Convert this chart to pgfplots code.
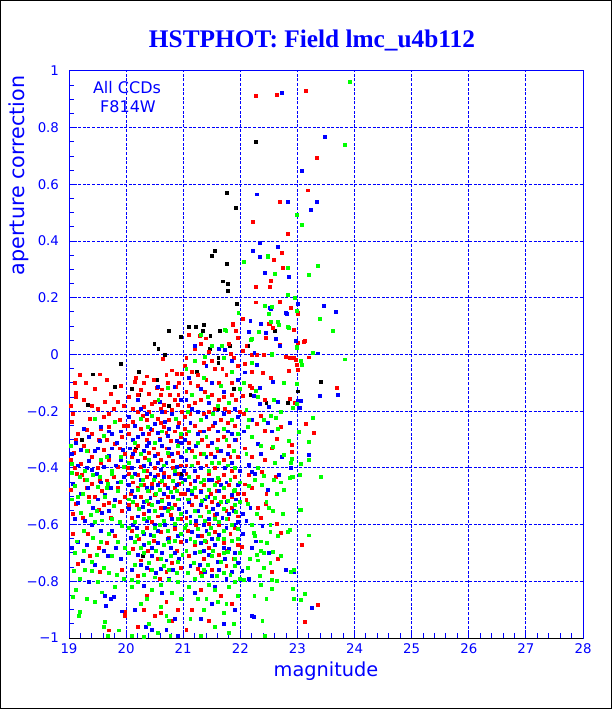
\documentclass[border=0pt]{standalone}
\usepackage{pgfplots}
\pgfplotsset{compat=1.18}
\usepackage{fontspec}
\newfontfamily\labfont{DejaVu Sans}
\newfontfamily\titlefont{Liberation Serif}
\definecolor{pblue}{RGB}{0,0,255}
\definecolor{pred}{RGB}{255,0,0}
\definecolor{pgreen}{RGB}{0,255,0}
\pgfplotsset{dot/.style={only marks, mark=square*, mark size=1.1pt, mark options={solid, fill=#1, draw=#1, line width=0.1pt}, color=#1}}
\tikzset{gridline/.style={draw=pblue, line width=0.75pt, dash pattern=on 2.25pt off 1.2pt}}
\begin{document}
\begin{tikzpicture}
\useasboundingbox (-51.75pt,-53.25pt) rectangle (407.25pt,478.5pt);
\draw[black,line width=0.75pt] (-51.375pt,-52.875pt) rectangle (406.875pt,478.125pt);
\begin{axis}[
  at={(0pt,0pt)}, anchor=south west, scale only axis,
  width=385.5pt, height=425.25pt,
  xmin=19, xmax=28, ymin=-1, ymax=1,
  xtick={19,20,21,22,23,24,25,26,27,28},
  xticklabels={19,20,21,22,23,24,25,26,27,28},
  ytick={-1,-0.8,-0.6,-0.4,-0.2,0,0.2,0.4,0.6,0.8,1},
  yticklabels={−1,−0.8,−0.6,−0.4,−0.2,0,0.2,0.4,0.6,0.8,1},
  minor x tick num=4, minor y tick num=3,
  tick align=inside, xtick pos=bottom, ytick pos=left,
  major tick length=6pt, minor tick length=3.5pt,
  every tick/.style={draw=pblue, line width=0.75pt},
  axis line style={draw=pblue, line width=0.75pt},
  tick label style={font=\labfont\fontsize{10}{11}\selectfont, text=pblue},
  xticklabel style={yshift=-1pt},
  yticklabel style={xshift=-4pt},
]
\pgfplotsinvokeforeach{20,21,22,23,24,25,26,27}{\draw[gridline] (axis cs:#1,-1) -- (axis cs:#1,1);}
\pgfplotsinvokeforeach{-0.8,-0.6,-0.4,-0.2,0,0.2,0.4,0.6,0.8}{\draw[gridline] (axis cs:19,#1) -- (axis cs:28,#1);}
% black
\addplot[dot=black] coordinates {
(22.27,0.75)(21.76,0.57)(21.92,0.518)(21.55,0.365)(21.5,0.35)(21.76,0.32)(21.69,0.259)(21.78,0.25)(21.78,0.224)(21.94,0.18)
(21.35,0.104)(21.22,0.098)(21.09,0.097)(20.75,0.086)(21.63,0.084)(22.6,0.084)(21.34,0.084)(21.47,0.066)(21.81,0.03)(21.46,0.02)
(20.96,0.063)(20.49,0.037)(20.56,0.02)(20.68,0.0)(21.61,-0.01)(21.61,-0.03)(19.91,-0.032)(20.21,-0.06)(21.24,-0.06)(19.41,-0.069)
(20.54,-0.09)(19.80,-0.112)(20.10,-0.12)(21.88,-0.12)(20.21,-0.14)(22.17,-0.14)(19.32,-0.175)(20.75,-0.18)(21.61,-0.19)(21.45,-0.20)
(22.45,-0.17)(22.83,-0.17)(23.01,-0.129)(23.4,-0.097)(19.22,-0.30)(20.17,-0.33)(22.12,0.03)(20.28,-0.71)(20.95,-0.42)
};
% red
\addplot[dot=pred] coordinates {
(22.26,0.913)(22.63,0.916)(23.14,0.93)(23.33,0.693)(23.17,0.58)(22.68,0.538)(22.22,0.47)(22.83,0.425)(22.72,0.361)(22.58,0.336)
(22.74,0.305)(22.53,0.261)(22.26,0.238)(22.51,0.238)(22.26,0.185)(22.68,0.187)(22.88,0.167)(23.11,0.044)(22.94,0.087)(23.2,-0.009)
(23.68,-0.118)(22.92,-0.188)(23.15,-0.243)(23.29,-0.277)(22.89,-0.342)(23.07,-0.67)(23.36,-0.883)(23.13,-0.943)
(21.86,0.11)(22.51,0.11)(22.93,0.088)(22.56,0.094)(22.44,0.059)(22.1,0.033)(22.29,0.0)(22.04,0.013)(21.83,0.004)(22.8,-0.008)
(22.87,-0.012)(23.01,0.147)(21.39,0.058)(22.68,0.036)(23.01,0.146)(22.89,-0.011)(22.96,-0.018)(22.99,-0.037)
(22.04,0.127)(22.5,0.11)(21.87,0.107)(21.91,0.083)(21.28,0.068)(23.0,0.144)(22.69,0.185)
(22.1,0.032)(23.0,0.043)(23.13,0.049)(22.2,0.0)(22.4,0.0)(22.93,-0.009)(22.08,-0.033)(22.39,-0.065)(22.53,-0.082)(22.2,-0.06)
(22.16,-0.109)(22.2,-0.118)(22.84,-0.058)(23.0,-0.054)(22.04,-0.144)(22.42,-0.158)(22.87,-0.157)(22.95,-0.17)(22.06,-0.21)(22.36,-0.215)
(22.28,-0.243)(22.42,-0.267)(22.71,-0.254)(22.64,-0.296)(22.89,-0.319)(22.19,-0.36)(22.42,-0.372)(22.37,-0.413)(22.62,-0.43)(22.55,-0.33)(22.08,-0.33)
(22.15,-0.422)(22.08,-0.457)(22.06,-0.49)(22.1,-0.513)(22.3,-0.54)(22.44,-0.527)(22.35,-0.574)(22.64,-0.598)(22.7,-0.627)(22.02,-0.677)
(22.66,-0.72)(22.55,-0.765)(22.2,-0.47)(22.45,-0.49)
(19.09,-0.10)(19.29,-0.10)(19.54,-0.069)(19.72,-0.138)(19.12,-0.133)(19.12,-0.15)(19.62,-0.166)(19.85,-0.166)(19.39,-0.18)(19.78,-0.19)
(19.96,-0.18)(19.06,-0.21)(19.36,-0.225)(19.60,-0.22)(19.88,-0.23)(19.05,-0.235)(19.3,-0.265)(19.55,-0.26)(19.7,-0.255)(19.15,-0.28)
(19.52,-0.30)(19.92,-0.29)(19.25,-0.32)(19.8,-0.315)(19.6,-0.335)(19.08,-0.345)(19.4,-0.36)(19.98,-0.35)(19.7,-0.37)(19.2,-0.385)
(19.85,-0.395)(19.5,-0.40)(19.1,-0.40)
(20.64,-0.014)(20.79,-0.055)(20.89,-0.068)(20.97,-0.067)(20.15,-0.095)(20.17,-0.08)(20.35,-0.076)(20.73,-0.10)(20.86,-0.113)(20.62,-0.122)
(20.53,-0.115)(20.25,-0.125)(20.2,-0.14)(20.4,-0.138)(20.6,-0.142)(20.76,-0.142)(20.91,-0.142)(20.65,-0.175)(20.45,-0.172)(20.9,-0.175)
(20.3,-0.185)(20.6,-0.19)(20.8,-0.195)(20.2,-0.2)(20.4,-0.2)(20.97,-0.2)(20.35,-0.23)(20.55,-0.225)(20.75,-0.23)(20.12,-0.235)
(20.92,-0.24)(20.25,-0.26)(20.45,-0.265)(20.65,-0.255)(20.85,-0.27)(20.05,-0.28)(20.35,-0.3)(20.58,-0.295)(20.78,-0.305)(20.95,-0.29)
(20.2,-0.32)(20.48,-0.33)(20.7,-0.33)(20.9,-0.345)(20.1,-0.36)(20.32,-0.365)(20.6,-0.37)(20.82,-0.375)(20.25,-0.395)(20.5,-0.4)(20.95,-0.39)
(21.1,0.07)(21.3,0.04)(21.2,0.02)(21.45,0.01)(21.05,-0.01)(21.8,0.04)(21.95,0.06)(21.35,-0.03)(21.55,-0.05)(21.15,-0.06)
(21.75,-0.07)(21.95,-0.04)(21.4,-0.09)(21.62,-0.1)(21.25,-0.11)(21.85,-0.1)(21.05,-0.13)(21.5,-0.14)(21.7,-0.15)(21.3,-0.16)
(21.92,-0.16)(21.1,-0.18)(21.55,-0.19)(21.8,-0.2)(21.35,-0.21)(21.02,-0.22)(21.65,-0.23)(21.2,-0.25)(21.45,-0.26)(21.9,-0.25)
(21.05,-0.28)(21.6,-0.3)(21.32,-0.3)(21.8,-0.32)(21.15,-0.34)(21.48,-0.35)(21.7,-0.37)(21.95,-0.36)(21.25,-0.38)(21.55,-0.4)
(19.14,-0.42)(19.22,-0.425)(19.27,-0.44)(19.39,-0.455)(19.53,-0.445)(19.66,-0.443)(19.02,-0.475)(19.11,-0.527)(19.3,-0.47)(19.45,-0.502)
(19.57,-0.48)(19.69,-0.522)(19.51,-0.548)(19.24,-0.574)(19.72,-0.574)(19.92,-0.55)(19.07,-0.56)(19.85,-0.47)(19.97,-0.5)
(19.07,-0.63)(19.33,-0.63)(19.66,-0.662)(19.51,-0.68)(19.15,-0.738)(19.36,-0.71)(19.54,-0.765)(19.92,-0.76)(19.8,-0.64)
(19.98,-0.908)(19.69,-0.972)(19.97,-0.92)
(20.05,-0.42)(20.2,-0.425)(20.35,-0.43)(20.55,-0.425)(20.75,-0.43)(20.9,-0.42)(20.12,-0.45)(20.3,-0.46)(20.45,-0.455)(20.68,-0.46)
(20.85,-0.47)(20.08,-0.49)(20.25,-0.5)(20.5,-0.495)(20.72,-0.5)(20.95,-0.49)(20.18,-0.53)(20.4,-0.525)(20.6,-0.54)(20.85,-0.53)
(20.3,-0.56)(20.55,-0.57)(20.78,-0.565)(20.1,-0.575)(20.95,-0.58)(20.45,-0.59)
(20.1,-0.62)(20.35,-0.61)(20.6,-0.625)(20.85,-0.615)(20.22,-0.65)(20.48,-0.655)(20.75,-0.645)(20.95,-0.66)(20.12,-0.685)(20.38,-0.69)
(20.62,-0.7)(20.88,-0.69)(20.25,-0.725)(20.55,-0.72)(20.8,-0.735)(20.42,-0.76)(20.7,-0.765)(20.95,-0.75)(20.2,-0.78)(20.58,-0.79)
(20.35,-0.85)(20.7,-0.87)(20.5,-0.92)(20.9,-0.9)(20.2,-0.96)(20.3,-0.9)(20.6,-0.91)(20.8,-0.94)
(21.05,-0.42)(21.25,-0.43)(21.45,-0.42)(21.7,-0.425)(21.9,-0.43)(21.12,-0.455)(21.35,-0.46)(21.58,-0.45)(21.8,-0.46)(21.02,-0.49)
(21.22,-0.5)(21.48,-0.49)(21.7,-0.5)(21.95,-0.49)(21.15,-0.53)(21.4,-0.535)(21.62,-0.525)(21.85,-0.54)(21.3,-0.57)(21.55,-0.565)
(21.78,-0.58)(21.05,-0.575)(21.95,-0.57)(21.45,-0.595)
(21.08,-0.62)(21.32,-0.64)(21.55,-0.625)(21.82,-0.63)(21.2,-0.67)(21.45,-0.68)(21.7,-0.665)(21.95,-0.67)(21.1,-0.71)(21.35,-0.72)
(21.62,-0.705)(21.88,-0.72)(21.25,-0.755)(21.5,-0.76)(21.75,-0.745)
(21.3,-0.83)(21.65,-0.85)(21.15,-0.9)(21.85,-0.88)(21.45,-0.94)(21.05,-0.97)
(19.18,-0.07)(19.45,-0.12)(19.65,-0.09)(19.9,-0.11)(19.25,-0.16)(19.5,-0.19)(19.02,-0.18)(19.7,-0.21)(19.95,-0.25)(19.4,-0.28)
(19.12,-0.3)(19.65,-0.3)(19.88,-0.33)(19.32,-0.34)(19.55,-0.38)(19.02,-0.37)(19.78,-0.43)(19.35,-0.5)(19.6,-0.53)(19.88,-0.52)
(20.05,-0.15)(20.3,-0.1)(20.48,-0.09)(20.7,-0.07)(20.92,-0.1)(20.12,-0.19)(20.5,-0.165)(20.68,-0.2)(20.85,-0.16)(20.28,-0.215)
(20.6,-0.24)(20.02,-0.25)(20.4,-0.28)(20.7,-0.275)(20.92,-0.31)(20.15,-0.34)(20.55,-0.35)(20.75,-0.355)(20.4,-0.345)(20.02,-0.4)
(20.35,-0.41)(20.65,-0.415)(20.82,-0.4)(20.58,-0.45)(20.2,-0.47)(20.92,-0.455)(20.4,-0.48)(20.62,-0.51)(20.05,-0.53)(20.75,-0.545)
(21.02,-0.04)(21.25,-0.07)(21.5,-0.02)(21.68,-0.05)(21.88,-0.01)(21.12,-0.1)(21.38,-0.13)(21.62,-0.16)(21.85,-0.14)(21.2,-0.17)
(21.45,-0.2)(21.72,-0.19)(21.98,-0.2)(21.12,-0.21)(21.52,-0.25)(21.78,-0.24)(21.28,-0.27)(21.02,-0.26)(21.7,-0.29)(21.42,-0.32)
(21.92,-0.3)(21.1,-0.31)(21.6,-0.34)(21.3,-0.35)(21.82,-0.36)(21.4,-0.39)(21.05,-0.39)(21.85,-0.41)(21.62,-0.44)(21.3,-0.48)
(21.58,-0.48)(21.85,-0.5)(21.1,-0.51)(21.5,-0.52)(21.75,-0.55)(21.22,-0.6)(21.62,-0.6)(21.9,-0.61)(21.4,-0.66)(21.75,-0.69)(21.3,-0.77)
};
% blue
\addplot[dot=pblue] coordinates {
(22.73,0.924)(23.48,0.77)(23.07,0.648)(22.28,0.566)(22.83,0.541)(23.33,0.538)(23.23,0.512)(22.33,0.396)(22.65,0.382)(22.22,0.365)
(22.33,0.345)(22.42,0.288)(22.84,0.276)(22.51,0.164)(23.46,0.171)(23.66,0.153)(23.36,0.005)(22.17,0.119)(22.79,0.148)(22.61,0.055)
(22.24,0.008)(23.0,0.18)(22.97,0.048)(21.73,0.016)(22.53,0.162)(22.81,0.146)(22.35,0.108)(22.15,0.081)(22.44,0.077)
(23.7,-0.14)(23.38,-0.146)(23.03,-0.188)(23.19,-0.354)(22.94,-0.766)(23.24,-0.892)(23.05,-0.163)(22.88,-0.4)
(22.69,0.032)(22.29,-0.034)(22.07,-0.062)(22.34,-0.115)(22.23,-0.144)(22.33,-0.173)(22.66,-0.167)(23.01,-0.164)(23.02,-0.187)(22.5,-0.185)
(22.19,-0.229)(22.48,-0.24)(22.86,-0.24)(22.05,-0.27)(22.55,-0.27)(22.3,-0.313)(22.35,-0.351)(22.73,-0.36)(22.15,-0.389)(22.2,-0.413)(22.57,-0.095)
(22.25,-0.42)(22.67,-0.422)(22.48,-0.478)(22.17,-0.54)(22.04,-0.56)(22.1,-0.586)(22.38,-0.604)(22.04,-0.633)(22.27,-0.658)(22.2,-0.68)
(22.5,-0.7)(22.79,-0.758)(22.03,-0.763)(22.15,-0.79)(22.23,-0.926)(22.2,-0.92)
(19.56,-0.255)(19.7,-0.27)(19.75,-0.28)(19.9,-0.27)(19.35,-0.29)(19.54,-0.305)(19.12,-0.31)(19.84,-0.31)(19.2,-0.335)(19.45,-0.34)
(19.94,-0.335)(19.7,-0.355)(19.35,-0.375)(19.9,-0.37)(19.15,-0.39)(19.6,-0.395)(19.82,-0.39)(19.4,-0.405)
(20.84,-0.113)(20.55,-0.112)(20.2,-0.158)(20.58,-0.165)(20.95,-0.16)(20.35,-0.21)(20.8,-0.21)(20.5,-0.245)(20.68,-0.235)(20.15,-0.25)
(20.9,-0.255)(20.28,-0.28)(20.55,-0.275)(20.72,-0.285)(20.4,-0.31)(20.88,-0.305)(20.12,-0.3)(20.62,-0.32)(20.3,-0.34)(20.8,-0.35)
(20.5,-0.355)(20.06,-0.33)(20.95,-0.36)(20.2,-0.375)(20.7,-0.38)(20.42,-0.385)(20.88,-0.395)(20.1,-0.4)(20.6,-0.405)
(21.2,0.03)(21.62,0.02)(21.4,-0.04)(21.85,-0.02)(21.1,-0.08)(21.5,-0.1)(21.95,-0.09)(21.3,-0.12)(21.7,-0.13)(21.05,-0.16)
(21.45,-0.17)(21.9,-0.19)(21.25,-0.2)(21.7,-0.21)(21.12,-0.24)(21.55,-0.24)(21.95,-0.22)(21.35,-0.27)(21.78,-0.27)(21.02,-0.3)
(21.5,-0.31)(21.9,-0.3)(21.22,-0.32)(21.65,-0.34)(21.4,-0.36)(21.85,-0.38)(21.05,-0.37)(21.3,-0.4)(21.72,-0.4)(21.98,-0.41)(21.0,-0.41)
(19.07,-0.455)(19.33,-0.469)(19.62,-0.495)(19.15,-0.522)(19.42,-0.539)(19.8,-0.513)(19.57,-0.557)(19.88,-0.594)(19.27,-0.586)(19.72,-0.47)
(19.95,-0.43)(19.48,-0.42)
(19.15,-0.66)(19.24,-0.726)(19.45,-0.74)(19.82,-0.68)(19.67,-0.71)(19.04,-0.68)(19.55,-0.62)
(19.64,-0.884)(19.92,-0.905)(19.72,-0.86)(19.62,-0.85)(19.78,-0.855)
(20.15,-0.42)(20.42,-0.42)(20.65,-0.43)(20.95,-0.435)(20.05,-0.46)(20.35,-0.47)(20.55,-0.46)(20.88,-0.46)(20.15,-0.5)(20.42,-0.505)
(20.65,-0.49)(20.82,-0.5)(20.05,-0.545)(20.28,-0.535)(20.55,-0.52)(20.75,-0.525)(20.92,-0.545)(20.35,-0.585)(20.62,-0.565)(20.2,-0.57)
(20.8,-0.58)(20.5,-0.6)
(20.18,-0.61)(20.42,-0.635)(20.68,-0.6)(20.9,-0.64)(20.08,-0.645)(20.3,-0.67)(20.55,-0.665)(20.78,-0.68)(20.2,-0.705)(20.45,-0.71)
(20.7,-0.725)(20.92,-0.72)(20.35,-0.75)(20.6,-0.755)(20.82,-0.76)(20.1,-0.76)
(20.3,-0.815)(20.62,-0.84)(20.15,-0.9)(20.85,-0.93)(20.45,-0.97)(20.34,-0.96)(20.7,-0.97)(20.9,-0.99)
(21.02,-0.44)(21.2,-0.445)(21.5,-0.44)(21.75,-0.45)(21.08,-0.475)(21.3,-0.485)(21.62,-0.48)(21.85,-0.495)(21.1,-0.52)(21.38,-0.51)
(21.6,-0.53)(21.92,-0.51)(21.25,-0.55)(21.52,-0.545)(21.8,-0.56)(21.05,-0.555)(21.35,-0.6)(21.68,-0.575)(21.95,-0.59)(21.22,-0.585)
(21.15,-0.625)(21.4,-0.62)(21.62,-0.635)(21.88,-0.6)(21.05,-0.655)(21.3,-0.665)(21.55,-0.67)(21.8,-0.685)(21.2,-0.7)(21.45,-0.705)
(21.72,-0.72)(21.95,-0.735)(21.12,-0.745)(21.38,-0.765)(21.62,-0.76)(21.85,-0.765)
(21.2,-0.84)(21.5,-0.88)(21.9,-0.9)(21.3,-0.93)(21.7,-0.95)(21.55,-0.82)
(19.25,-0.26)(19.5,-0.33)(19.05,-0.35)(19.75,-0.33)(19.3,-0.4)(19.55,-0.45)(19.85,-0.45)(19.2,-0.49)(19.5,-0.51)(19.7,-0.55)
(19.1,-0.58)(19.4,-0.6)(19.75,-0.62)(19.3,-0.67)(19.6,-0.69)(19.9,-0.72)(19.35,-0.8)
(20.25,-0.19)(20.62,-0.2)(20.05,-0.22)(20.42,-0.26)(20.75,-0.26)(20.2,-0.29)(20.58,-0.3)(20.95,-0.31)(20.35,-0.32)(20.75,-0.33)
(20.12,-0.35)(20.55,-0.38)(20.3,-0.39)(20.85,-0.42)(20.25,-0.44)(20.5,-0.43)(20.72,-0.47)(20.1,-0.48)(20.45,-0.47)(20.92,-0.51)
(20.3,-0.52)(20.68,-0.54)(20.4,-0.55)(20.12,-0.6)(20.85,-0.6)(20.55,-0.62)(20.3,-0.63)(20.72,-0.65)(20.45,-0.68)(20.62,-0.7)
(20.85,-0.7)(20.25,-0.74)(20.52,-0.77)(20.75,-0.79)
(21.15,-0.19)(21.4,-0.22)(21.6,-0.27)(21.25,-0.28)(21.85,-0.28)(21.1,-0.33)(21.55,-0.36)(21.78,-0.35)(21.2,-0.41)(21.45,-0.44)
(21.65,-0.46)(21.95,-0.46)(21.15,-0.49)(21.42,-0.5)(21.75,-0.52)(21.3,-0.53)(21.58,-0.56)(21.88,-0.55)(21.12,-0.57)(21.45,-0.58)
(21.75,-0.61)(21.25,-0.64)(21.5,-0.65)(21.7,-0.68)(21.35,-0.69)(21.6,-0.73)(21.9,-0.7)(21.28,-0.74)(21.5,-0.78)(21.75,-0.79)
};
% green
\addplot[dot=pgreen] coordinates {
(23.92,0.963)(23.83,0.742)(22.98,0.493)(23.07,0.459)(22.47,0.347)(22.06,0.328)(23.36,0.314)(22.6,0.287)(22.83,0.307)(23.2,0.283)
(22.83,0.213)(22.95,0.202)(22.42,0.174)(23.39,0.128)(23.62,0.086)(23.82,-0.016)(21.73,0.088)(22.65,0.115)(22.83,0.098)(22.67,0.104)
(22.19,0.055)(22.54,0.002)(23.26,0.008)(22.98,0.027)(22.98,0.156)(21.37,-0.006)(21.67,0.03)(22.43,0.173)(22.54,0.168)
(22.5,0.145)(22.53,0.117)(22.84,0.095)(21.75,0.083)(21.96,0.148)(23.08,0.46)(22.48,0.348)
(23.08,-0.035)(23.26,-0.221)(23.19,-0.308)(23.4,-0.429)(23.05,-0.547)(23.19,-0.637)(22.94,-0.76)(23.12,-0.843)(22.94,-0.862)(22.99,-0.104)
(22.98,-0.174)(22.88,-0.38)(22.9,-0.43)
(22.18,0.053)(22.32,0.082)(22.99,0.026)(22.55,0.0)(23.05,-0.02)(22.2,-0.03)(22.27,-0.127)(22.58,-0.158)(22.91,-0.187)(22.1,-0.194)
(22.7,-0.2)(22.53,-0.214)(22.62,-0.222)(22.4,-0.23)(22.12,-0.255)(22.65,-0.26)(23.02,-0.271)(22.2,-0.288)(22.85,-0.302)(22.56,-0.325)
(22.76,-0.354)(22.9,-0.366)(22.91,-0.43)(23.2,-0.372)(23.06,-0.385)(22.3,-0.4)
(22.4,-0.427)(22.58,-0.44)(22.86,-0.433)(23.04,-0.422)(22.15,-0.463)(22.37,-0.46)(22.63,-0.49)(22.75,-0.475)(22.13,-0.527)(22.5,-0.54)
(22.57,-0.55)(22.74,-0.56)(23.04,-0.548)(22.28,-0.56)(22.52,-0.6)(22.86,-0.618)(22.83,-0.625)(22.52,-0.626)(22.23,-0.628)(22.25,-0.64)
(22.35,-0.658)(22.46,-0.662)(22.35,-0.69)(22.57,-0.695)(22.28,-0.706)(22.16,-0.72)(22.3,-0.725)(22.52,-0.735)(22.4,-0.75)(22.88,-0.767)
(22.06,-0.793)(22.34,-0.781)(22.55,-0.795)(22.63,-0.799)(22.36,-0.81)(22.24,-0.849)(22.45,-0.861)(22.55,-0.826)(22.92,-0.826)(22.42,-0.992)
(23.05,-0.864)(22.38,-0.94)
(19.45,-0.225)(19.8,-0.235)(19.6,-0.285)(19.02,-0.32)(19.3,-0.34)(19.65,-0.36)(19.9,-0.36)(19.05,-0.385)(19.55,-0.37)(19.75,-0.41)
(19.28,-0.41)(19.95,-0.395)
(20.73,-0.115)(20.56,-0.16)(20.45,-0.215)(20.87,-0.225)(20.25,-0.225)(20.62,-0.27)(20.38,-0.255)(20.95,-0.28)(20.15,-0.31)(20.5,-0.31)
(20.72,-0.345)(20.25,-0.35)(20.9,-0.32)(20.4,-0.37)(20.65,-0.39)(20.05,-0.38)(20.85,-0.41)(20.3,-0.41)
(21.3,0.07)(21.7,-0.01)(21.2,-0.02)(21.5,0.03)(21.05,-0.05)(21.85,-0.06)(21.35,-0.08)(21.65,-0.11)(21.15,-0.14)(21.98,-0.12)
(21.42,-0.15)(21.8,-0.17)(21.6,-0.18)(21.08,-0.2)(21.3,-0.23)(21.85,-0.23)(21.52,-0.21)(21.7,-0.26)(21.1,-0.27)(21.4,-0.29)
(21.95,-0.28)(21.25,-0.31)(21.75,-0.3)(21.58,-0.33)(21.05,-0.34)(21.88,-0.34)(21.35,-0.35)(21.62,-0.38)(21.15,-0.39)(21.45,-0.41)(21.9,-0.4)
(19.05,-0.415)(19.18,-0.43)(19.42,-0.425)(19.54,-0.43)(19.75,-0.42)(19.91,-0.447)(19.09,-0.463)(19.24,-0.49)(19.34,-0.52)(19.5,-0.465)
(19.63,-0.5)(19.78,-0.533)(19.85,-0.48)(19.04,-0.51)(19.2,-0.557)(19.38,-0.566)(19.57,-0.584)(19.89,-0.59)(19.45,-0.59)(19.68,-0.455)
(19.14,-0.658)(19.42,-0.645)(19.69,-0.63)(19.92,-0.605)(19.08,-0.761)(19.39,-0.761)(19.75,-0.709)(19.6,-0.75)(19.95,-0.79)(19.18,-0.79)
(19.84,-0.775)(19.49,-0.705)(19.25,-0.69)(19.98,-0.68)
(19.12,-0.83)(19.57,-0.838)(19.18,-0.908)(19.62,-0.943)(19.87,-0.972)(19.07,-0.855)(19.17,-0.92)(19.6,-0.96)(19.68,-0.99)(19.45,-0.87)
(20.1,-0.43)(20.28,-0.44)(20.48,-0.44)(20.62,-0.445)(20.82,-0.445)(20.98,-0.45)(20.2,-0.475)(20.38,-0.48)(20.58,-0.475)(20.78,-0.485)
(20.05,-0.51)(20.35,-0.515)(20.62,-0.515)(20.9,-0.51)(20.22,-0.545)(20.5,-0.55)(20.72,-0.55)(20.95,-0.56)(20.15,-0.59)(20.4,-0.575)
(20.65,-0.585)(20.85,-0.595)
(20.05,-0.61)(20.28,-0.625)(20.5,-0.61)(20.72,-0.62)(20.95,-0.63)(20.15,-0.66)(20.4,-0.665)(20.65,-0.67)(20.85,-0.655)(20.05,-0.7)
(20.3,-0.7)(20.52,-0.69)(20.78,-0.71)(20.98,-0.705)(20.15,-0.74)(20.4,-0.735)(20.65,-0.745)(20.88,-0.77)(20.3,-0.775)(20.5,-0.785)
(20.1,-0.795)(20.75,-0.795)
(20.1,-0.82)(20.45,-0.83)(20.8,-0.84)(20.25,-0.88)(20.6,-0.89)(20.95,-0.86)(20.4,-0.95)(20.75,-0.94)(20.1,-0.99)(20.55,-0.98)
(20.3,-0.995)(20.77,-0.99)
(21.1,-0.43)(21.35,-0.44)(21.6,-0.435)(21.82,-0.44)(21.98,-0.45)(21.2,-0.47)(21.45,-0.475)(21.7,-0.47)(21.9,-0.475)(21.08,-0.51)
(21.32,-0.515)(21.55,-0.505)(21.78,-0.515)(21.98,-0.52)(21.2,-0.55)(21.45,-0.555)(21.7,-0.545)(21.92,-0.555)(21.12,-0.59)(21.38,-0.585)
(21.62,-0.59)(21.85,-0.6)
(21.02,-0.61)(21.25,-0.615)(21.48,-0.61)(21.7,-0.62)(21.95,-0.615)(21.12,-0.65)(21.38,-0.655)(21.6,-0.65)(21.85,-0.655)(21.05,-0.69)
(21.28,-0.695)(21.52,-0.69)(21.78,-0.695)(21.98,-0.7)(21.18,-0.735)(21.42,-0.74)(21.65,-0.73)(21.9,-0.745)(21.08,-0.77)(21.32,-0.78)
(21.58,-0.78)(21.82,-0.775)(21.98,-0.79)
(21.1,-0.82)(21.45,-0.81)(21.8,-0.82)(21.25,-0.86)(21.6,-0.87)(21.95,-0.85)(21.35,-0.9)(21.7,-0.91)(21.12,-0.93)(21.55,-0.96)
(21.88,-0.95)(21.3,-0.99)(21.8,-0.98)
(19.3,-0.44)(19.65,-0.47)(19.15,-0.5)(19.48,-0.55)(19.75,-0.58)(19.25,-0.62)(19.55,-0.66)(19.85,-0.66)(19.1,-0.7)(19.4,-0.73)
(19.7,-0.77)(19.28,-0.76)(19.5,-0.8)(19.8,-0.82)(19.3,-0.86)
(20.25,-0.46)(20.52,-0.49)(20.88,-0.48)(20.12,-0.52)(20.45,-0.53)(20.8,-0.54)(20.3,-0.58)(20.58,-0.6)(20.9,-0.58)(20.18,-0.64)
(20.48,-0.64)(20.75,-0.66)(20.25,-0.68)(20.6,-0.72)(20.9,-0.73)(20.45,-0.76)(20.75,-0.76)(20.2,-0.8)(20.6,-0.81)(20.9,-0.8)
(20.35,-0.86)(20.7,-0.92)
(21.2,-0.36)(21.5,-0.38)(21.78,-0.39)(21.3,-0.45)(21.55,-0.46)(21.88,-0.48)(21.15,-0.48)(21.4,-0.5)(21.65,-0.52)(21.9,-0.53)
(21.28,-0.57)(21.55,-0.58)(21.75,-0.58)(21.05,-0.6)(21.45,-0.63)(21.7,-0.65)(21.95,-0.65)(21.2,-0.66)(21.5,-0.71)(21.7,-0.7)
(21.9,-0.72)(21.35,-0.76)(21.7,-0.77)(21.2,-0.79)(21.55,-0.83)(21.9,-0.8)(21.4,-0.86)(21.75,-0.88)
(22.1,-0.35)(22.35,-0.32)(22.6,-0.38)(22.25,-0.44)(22.7,-0.45)(22.45,-0.52)(22.2,-0.6)(22.65,-0.64)(22.4,-0.7)(22.12,-0.75)
(22.7,-0.71)(22.05,-0.1)(22.3,-0.15)(22.75,-0.1)(22.15,-0.23)
};
\draw[black, line width=0.75pt] (axis cs:19,-1) -- (axis cs:28,-1);
\end{axis}
\node[anchor=base, text=pblue, font=\titlefont\bfseries\fontsize{19}{22}\selectfont] at (182.25pt,442.5pt) {HSTPHOT: Field lmc\_u4b112};
\node[text=pblue, font=\labfont\fontsize{12}{14}\selectfont] at (43.5pt,412.5pt) {All CCDs};
\node[text=pblue, font=\labfont\fontsize{12}{14}\selectfont] at (44.25pt,398.25pt) {F814W};
\node[anchor=base, text=pblue, font=\labfont\fontsize{14.5}{16}\selectfont] at (192.75pt,-28.5pt) {magnitude};
\node[rotate=90, anchor=east, text=pblue, font=\labfont\fontsize{15.5}{17}\selectfont] at (-37.5pt,425.25pt) {aperture correction};
\end{tikzpicture}
\end{document}
